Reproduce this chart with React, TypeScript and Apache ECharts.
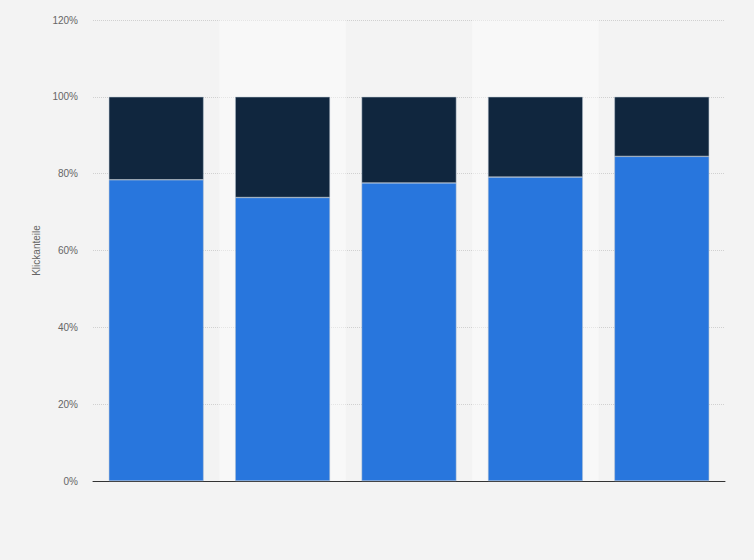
import React, { useEffect, useRef } from 'react'
import * as echarts from 'echarts'

const categories = ['1', '2', '3', '4', '5']
const blueShare = [78.4, 73.8, 77.6, 79.1, 84.5]
const darkShare = [21.6, 26.2, 22.4, 20.9, 15.5]
const yTicks = [0, 20, 40, 60, 80, 100, 120]

const App: React.FC = () => {
  const chartRef = useRef<HTMLDivElement>(null)

  useEffect(() => {
    if (!chartRef.current) return
    const chart = echarts.init(chartRef.current, undefined, { renderer: 'svg' })

    const option = {
      animation: false,
      backgroundColor: '#f3f3f3',
      textStyle: { fontFamily: 'Arial, "Liberation Sans", sans-serif' },
      grid: { left: 93, right: 29, top: 20, bottom: 79 },
      xAxis: {
        type: 'category',
        data: categories,
        axisLine: { show: true, lineStyle: { color: '#333', width: 1 } },
        axisTick: { show: false },
        axisLabel: { show: false },
        splitArea: {
          show: true,
          areaStyle: { color: ['rgba(255,255,255,0)', 'rgba(255,255,255,0.45)'] }
        }
      },
      yAxis: {
        type: 'value',
        min: yTicks[0],
        max: yTicks[yTicks.length - 1],
        interval: 20,
        name: 'Klickanteile',
        nameLocation: 'middle',
        nameGap: 48,
        nameTextStyle: { color: '#666', fontSize: 10 },
        axisLine: { show: false },
        axisTick: { show: false },
        axisLabel: { color: '#666', fontSize: 10, formatter: '{value}%', margin: 15 },
        splitLine: { lineStyle: { color: '#d0d0d0', type: [1, 1], width: 1 } }
      },
      series: [
        {
          name: 'blue',
          type: 'bar',
          stack: 'total',
          data: blueShare,
          barWidth: '75%',
          itemStyle: { color: '#2876dd', borderColor: '#b8c4d0', borderWidth: 0.5 }
        },
        {
          name: 'dark',
          type: 'bar',
          stack: 'total',
          data: darkShare,
          barWidth: '75%',
          itemStyle: { color: '#10263e', borderColor: '#b8c4d0', borderWidth: 0.5 }
        }
      ]
    }

    chart.setOption(option)
    return () => chart.dispose()
  }, [])

  return (
    <div
      ref={chartRef}
      style={{ position: 'fixed', left: 0, top: 0, width: 754, height: 560 }}
    />
  )
}

export default App
